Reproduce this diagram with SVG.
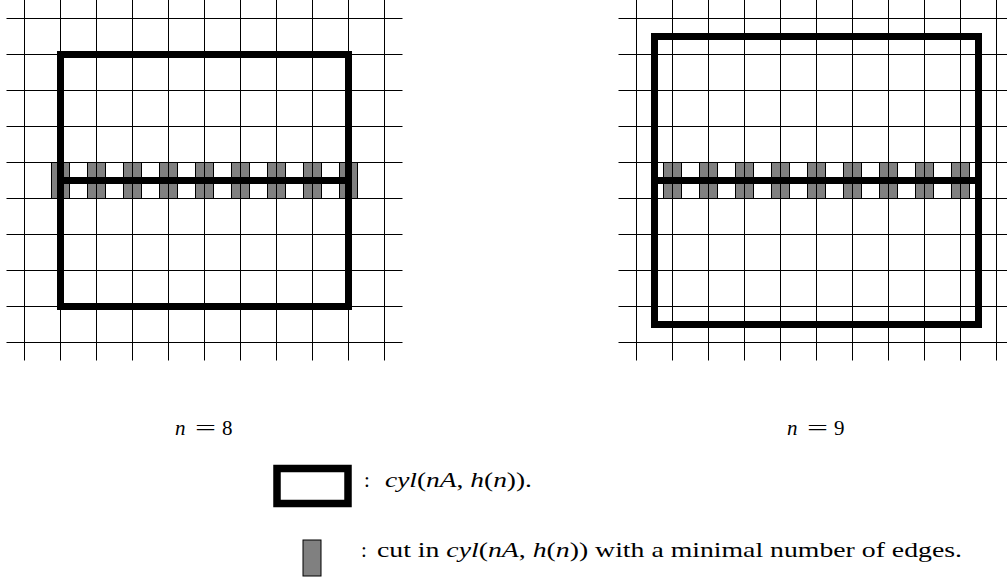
<svg xmlns="http://www.w3.org/2000/svg" width="1007" height="578" viewBox="0 0 1007 578">
<defs>
<style>
.grid{fill:none;stroke:#000;stroke-width:1}
.cut{fill:#808080;stroke:#000;stroke-width:1}
.thick{fill:none;stroke:#000;stroke-width:7}
.txt{font-family:"Liberation Serif","DejaVu Serif",serif;font-size:21px;fill:#000}
.it{font-style:italic}
</style>
</defs>
<rect width="1007" height="578" fill="#fff"/>
<g id="left-grid">
<g id="left-cuts">
<rect class="cut" x="51.5" y="162.5" width="18" height="36"/>
<rect class="cut" x="87.5" y="162.5" width="18" height="36"/>
<rect class="cut" x="123.5" y="162.5" width="18" height="36"/>
<rect class="cut" x="159.5" y="162.5" width="18" height="36"/>
<rect class="cut" x="195.5" y="162.5" width="18" height="36"/>
<rect class="cut" x="231.5" y="162.5" width="18" height="36"/>
<rect class="cut" x="267.5" y="162.5" width="18" height="36"/>
<rect class="cut" x="303.5" y="162.5" width="18" height="36"/>
<rect class="cut" x="339.5" y="162.5" width="18" height="36"/>
</g>
<path class="grid" d="M24.5 0V360.5M60.5 0V360.5M96.5 0V360.5M132.5 0V360.5M168.5 0V360.5M204.5 0V360.5M240.5 0V360.5M276.5 0V360.5M312.5 0V360.5M348.5 0V360.5M384.5 0V360.5
M6.5 18.5H402.5M6.5 54.5H402.5M6.5 90.5H402.5M6.5 126.5H402.5M6.5 162.5H402.5M6.5 198.5H402.5M6.5 234.5H402.5M6.5 270.5H402.5M6.5 306.5H402.5M6.5 342.5H402.5"/>
<rect id="left-cyl" class="thick" x="60.5" y="54.5" width="288" height="252"/>
<path class="thick" d="M60.5 180.5H348.5"/>
</g>
<g id="right-grid">
<g id="right-cuts">
<rect class="cut" x="663.5" y="162.5" width="18" height="36"/>
<rect class="cut" x="699.5" y="162.5" width="18" height="36"/>
<rect class="cut" x="735.5" y="162.5" width="18" height="36"/>
<rect class="cut" x="771.5" y="162.5" width="18" height="36"/>
<rect class="cut" x="807.5" y="162.5" width="18" height="36"/>
<rect class="cut" x="843.5" y="162.5" width="18" height="36"/>
<rect class="cut" x="879.5" y="162.5" width="18" height="36"/>
<rect class="cut" x="915.5" y="162.5" width="18" height="36"/>
<rect class="cut" x="951.5" y="162.5" width="18" height="36"/>
</g>
<path class="grid" d="M636.5 0V360.5M672.5 0V360.5M708.5 0V360.5M744.5 0V360.5M780.5 0V360.5M816.5 0V360.5M852.5 0V360.5M888.5 0V360.5M924.5 0V360.5M960.5 0V360.5M996.5 0V360.5
M618.5 18.5H1007M618.5 54.5H1007M618.5 90.5H1007M618.5 126.5H1007M618.5 162.5H1007M618.5 198.5H1007M618.5 234.5H1007M618.5 270.5H1007M618.5 306.5H1007M618.5 342.5H1007"/>
<rect id="right-cyl" class="thick" x="654.5" y="36.5" width="324" height="288"/>
<path class="thick" d="M654.5 180.5H978.5"/>
</g>
<g id="label-n8">
<text class="txt" x="175" y="435"><tspan class="it">n</tspan></text>
<text class="txt" x="195" y="435" textLength="21" lengthAdjust="spacingAndGlyphs">=</text>
<text class="txt" x="222" y="435">8</text>
</g>
<g id="label-n9">
<text class="txt" x="787" y="435"><tspan class="it">n</tspan></text>
<text class="txt" x="807" y="435" textLength="21" lengthAdjust="spacingAndGlyphs">=</text>
<text class="txt" x="834" y="435">9</text>
</g>
<g id="legend-cyl">
<rect x="277" y="468.5" width="71" height="35" fill="#fff" stroke="#000" stroke-width="7.5"/>
<text class="txt" x="364" y="487">:</text>
<text class="txt" x="385" y="487" textLength="147" lengthAdjust="spacingAndGlyphs"><tspan class="it">cyl</tspan>(<tspan class="it">nA</tspan>, <tspan class="it">h</tspan>(<tspan class="it">n</tspan>)).</text>
</g>
<g id="legend-cut">
<rect class="cut" x="303" y="540" width="18" height="36"/>
<text class="txt" x="361" y="557">:</text>
<text class="txt" x="377" y="557" textLength="585" lengthAdjust="spacingAndGlyphs">cut in <tspan class="it">cyl</tspan>(<tspan class="it">nA</tspan>, <tspan class="it">h</tspan>(<tspan class="it">n</tspan>)) with a minimal number of edges.</text>
</g>
</svg>
